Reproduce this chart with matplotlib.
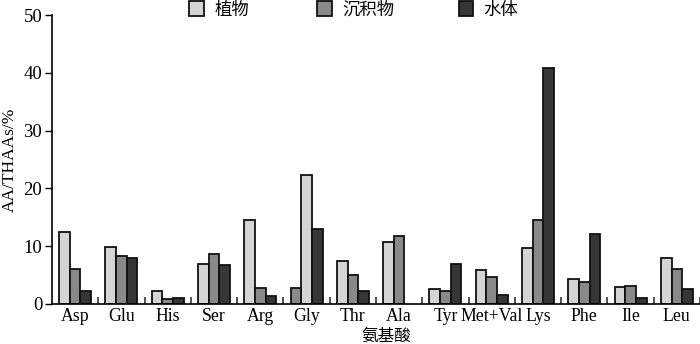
import numpy as np
import matplotlib
matplotlib.use("Agg")
import matplotlib.pyplot as plt
from matplotlib.patches import Patch

plt.rcParams['font.family'] = ['Liberation Serif', 'Noto Sans CJK SC']

# amino acids and relative contents (AA/THAAs, %)
acids = ['Asp', 'Glu', 'His', 'Ser', 'Arg', 'Gly', 'Thr', 'Ala',
         'Tyr', 'Met+Val', 'Lys', 'Phe', 'Ile', 'Leu']
plant = [12.5, 9.9, 2.3, 7.0, 14.5, 22.4, 7.4, 10.7, 2.6, 5.8, 9.7, 4.4, 3.0, 7.9]
sediment = [6.0, 8.3, 0.9, 8.65, 2.8, 2.8, 5.0, 11.7, 2.3, 4.6, 14.5, 3.8, 3.2, 6.1]
water = [2.3, 8.0, 1.1, 6.8, 1.4, 12.9, 2.25, np.nan, 6.9, 1.6, 40.8, 12.1, 1.0, 2.65]
# slot of each series inside a group (Gly has sediment drawn first)
plant_slot = [0, 0, 0, 0, 0, 1, 0, 0, 0, 0, 0, 0, 0, 0]
sed_slot = [1, 1, 1, 1, 1, 0, 1, 1, 1, 1, 1, 1, 1, 1]
water_slot = [2] * 14

labels = ['植物', '沉积物', '水体']
colors = ['#d4d4d4', '#898989', '#363636']

fig = plt.figure(figsize=(7.0, 3.44), dpi=100)
ax = fig.add_axes([52 / 700, 1 - 304 / 344, 648 / 700, 289 / 344])

x = np.arange(len(acids))
w = 0.23
series = [(plant, plant_slot), (sediment, sed_slot), (water, water_slot)]
for (vals, slot), c in zip(series, colors):
    pos = x + (np.array(slot) - 1) * w
    ax.bar(pos, vals, width=w, color=c, edgecolor='#111111', linewidth=1.3)

ax.set_xlim(-0.5, len(acids) - 0.5)
ax.set_ylim(0, 50)
ax.set_yticks([0, 10, 20, 30, 40, 50])
ax.set_xticks(x)
ax.set_xticklabels(acids, fontsize=12.8)
ax.set_xticks(np.arange(0.5, len(acids), 1), minor=True)
ax.tick_params(axis='x', which='major', length=0, pad=3)
ax.tick_params(axis='x', which='minor', direction='in', length=5, width=1.2, color='#333333')
ax.tick_params(axis='y', direction='out', length=5, width=1, labelsize=13.5, pad=2)

for s in ['top', 'right']:
    ax.spines[s].set_visible(False)
ax.spines['left'].set_linewidth(1.2)
ax.spines['bottom'].set_linewidth(1.2)

ax.set_ylabel('AA/THAAs/%', fontsize=12.5)
ax.yaxis.set_label_coords(-0.052, 0.5)
ax.set_xlabel('氨基酸', fontsize=12)
ax.xaxis.set_label_coords(0.516, -0.085)
ax.xaxis.label.set_va('top')

# legend entries placed one by one to match the uneven spacing
leg_x = [0.27, 0.453, 0.655]
for h_c, lab, lx in zip(colors, labels, leg_x):
    h = Patch(facecolor=h_c, edgecolor='#111111', linewidth=1.3)
    leg = fig.legend([h], [lab], loc='center left', bbox_to_anchor=(lx, 0.972),
                     frameon=False, handlelength=0.85, handleheight=0.95,
                     handletextpad=0.6, borderpad=0, borderaxespad=0,
                     prop={'family': ['Noto Sans CJK SC'], 'size': 12.5})

fig.savefig('out.png', dpi=100)
